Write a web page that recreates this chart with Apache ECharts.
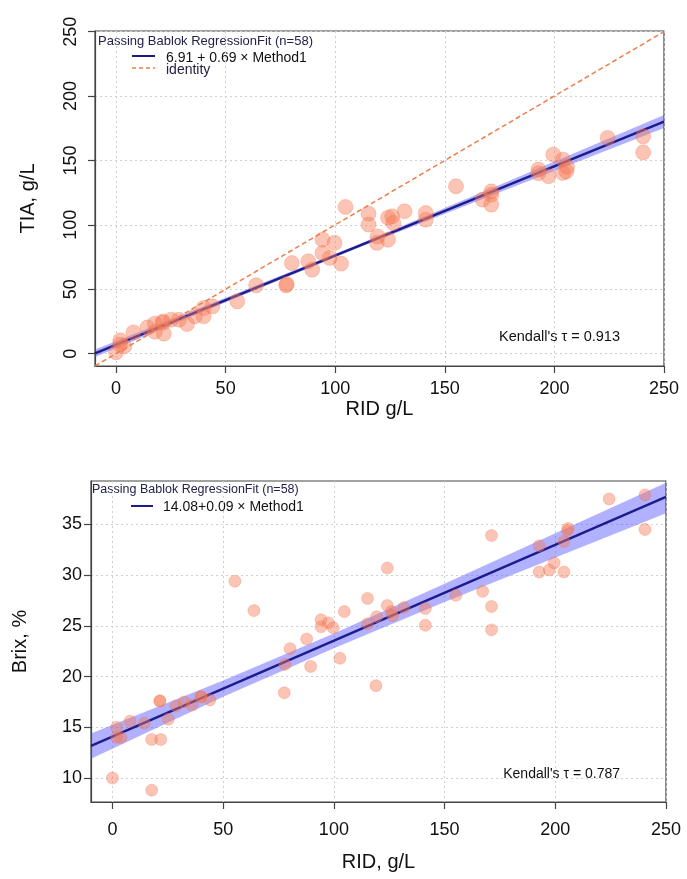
<!DOCTYPE html>
<html>
<head>
<meta charset="utf-8">
<script src="https://cdn.jsdelivr.net/npm/echarts@6/dist/echarts.min.js"></script>
<style>
html, body { margin: 0; padding: 0; background: #fff; }
#chart { width: 687px; height: 879px; }
</style>
</head>
<body>
<div id="chart"></div>
<script>
// RID g/L, shared by both panels
var rid = [0, 1.9, 1.9, 3.8, 7.9, 14.4, 17.7, 17.7, 21.4, 21.4, 21.8, 25.2, 28.7, 32.4, 36, 40, 40, 44,
  55.3, 63.9, 77.6, 77.9, 80.2, 87.7, 89.5, 94.2, 94.2, 97.5, 99.7, 102.7, 104.7, 115.2, 115.2, 119,
  119.3, 124.1, 124.1, 126, 126.5, 131.6, 141.3, 141.3, 155.1, 167.2, 171.2, 171.2, 171.2, 192.7,
  192.7, 197.3, 199.5, 203.9, 203.9, 205.8, 205.5, 224.3, 240.5, 240.5];
// TIA g/L
var tia = [1, 10.3, 7, 5.7, 16.5, 20.4, 23.3, 17, 25, 24, 15.5, 26.4, 26.4, 23, 29, 35.5, 29, 36.7,
  40.6, 53, 53, 54, 70.4, 71.7, 65.2, 88.5, 78.2, 74.3, 86, 69.9, 113.9, 108.7, 100.2, 86,
  91, 105.6, 88.5, 106.6, 101.5, 110.5, 109.2, 104, 129.9, 119.6, 126, 123.4, 115.7, 142.9,
  140, 137.7, 154.5, 150.6, 140.3, 145, 141.5, 167.5, 168.7, 156.3];
// Brix %
var brix = [10, 15, 14, 14, 15.6, 15.4, 13.8, 8.8, 17.6, 17.6, 13.8, 15.8, 17.1, 17.5, 17.2, 18, 18, 17.7,
  29.4, 26.5, 18.4, 21.2, 22.75, 23.7, 21, 25.6, 24.9, 25.3, 24.8, 21.8, 26.4, 27.7, 25.2, 19.1,
  25.9, 30.7, 27, 26.4, 26, 26.8, 26.7, 25.05, 28, 28.4, 33.9, 26.9, 24.6, 32.9,
  30.3, 30.5, 31.2, 30.3, 33.3, 34.6, 34.4, 37.5, 37.9, 34.5];

var xTicks = [0, 50, 100, 150, 200, 250];
var tiaTicks = [0, 50, 100, 150, 200, 250];
var brixTicks = [10, 15, 20, 25, 30, 35];

// intercept, slope
var tiaFit = [6.91, 0.693];
var brixFit = [14.08, 0.0945];

// confidence band
var tiaBandX = [-9.6, 50, 110, 180, 250];
var tiaBandLo = [-2.7, 39.8, 81.8, 128.6, 175.2];
var tiaBandHi = [3.3, 43.4, 84.4, 134.6, 185.2];
var brixBandX = [-9.7, 50, 100, 150, 250];
var brixBandLo = [11.9, 18.0, 22.8, 27.35, 36.1];
var brixBandHi = [14.4, 19.6, 24.25, 29.15, 39.1];

var FONT = 'Liberation Sans, Arial, sans-serif';
var lineColor = '#1c1c8a';
var bandColor = 'rgba(70,70,255,0.42)';
var ptColor = 'rgba(245,120,85,0.55)';
var ptBorder = 'rgba(240,110,75,0.35)';
var idColor = '#ec7e4c';

var chart = echarts.init(document.getElementById('chart'));

function axis(gi, min, max, ticks, opts) {
  return {
    type: 'value', gridIndex: gi, min: min, max: max,
    name: opts.name, nameLocation: 'middle', nameGap: opts.nameGap,
    nameTextStyle: { fontFamily: FONT, fontSize: 20, color: '#111' },
    axisLine: { show: true, onZero: false, lineStyle: { color: '#444', width: 1.2 } },
    axisTick: { show: true, length: 7, customValues: ticks, lineStyle: { color: '#444', width: 1.2 } },
    axisLabel: { customValues: ticks, rotate: opts.rotate || 0, margin: opts.margin,
      fontFamily: FONT, fontSize: 18, color: '#111' },
    splitLine: { show: true, lineStyle: { color: '#cfcfcf', type: [2, 3], width: 1 } }
  };
}

function band(xi, xs, lo, hi) {
  return {
    type: 'custom', xAxisIndex: xi, yAxisIndex: xi, silent: true, z: 2,
    data: [[xs[0], lo[0]]],
    renderItem: function (params, api) {
      var pts = [];
      for (var i = 0; i < xs.length; i++) pts.push(api.coord([xs[i], lo[i]]));
      for (var j = xs.length - 1; j >= 0; j--) pts.push(api.coord([xs[j], hi[j]]));
      return { type: 'polygon', shape: { points: pts }, style: { fill: bandColor } };
    }
  };
}

function fitLine(xi, fit, x0, x1) {
  return {
    type: 'line', xAxisIndex: xi, yAxisIndex: xi, symbol: 'none', silent: true, z: 3,
    lineStyle: { color: lineColor, width: 2.4 },
    data: [[x0, fit[0] + fit[1] * x0], [x1, fit[0] + fit[1] * x1]]
  };
}

function pairs(xs, ys) {
  var out = [];
  for (var i = 0; i < xs.length; i++) out.push([xs[i], ys[i]]);
  return out;
}

chart.setOption({
  animation: false,
  backgroundColor: '#fff',
  grid: [
    { left: 95, top: 31, width: 569, height: 335, show: true, borderColor: '#444', borderWidth: 1.2 },
    { left: 91, top: 481, width: 575, height: 321, show: true, borderColor: '#444', borderWidth: 1.2 }
  ],
  xAxis: [
    axis(0, -9.6, 250, xTicks, { name: 'RID g/L', nameGap: 33, margin: 14 }),
    axis(1, -9.7, 250, xTicks, { name: 'RID, g/L', nameGap: 50, margin: 19 })
  ],
  yAxis: [
    axis(0, -9.6, 250.5, tiaTicks, { name: 'TIA, g/L', nameGap: 57, rotate: 90, margin: 15 }),
    axis(1, 7.64, 39.27, brixTicks, { name: 'Brix, %', nameGap: 61, margin: 9 })
  ],
  series: [
    band(0, tiaBandX, tiaBandLo, tiaBandHi),
    fitLine(0, tiaFit, -9.6, 250),
    {
      type: 'line', xAxisIndex: 0, yAxisIndex: 0, symbol: 'none', silent: true, z: 3,
      lineStyle: { color: idColor, width: 1.5, type: [5, 3] },
      data: [[-9.6, -9.6], [250, 250]]
    },
    {
      type: 'scatter', xAxisIndex: 0, yAxisIndex: 0, symbolSize: 15, z: 4,
      itemStyle: { color: ptColor, borderColor: ptBorder, borderWidth: 1 },
      data: pairs(rid, tia)
    },
    band(1, brixBandX, brixBandLo, brixBandHi),
    fitLine(1, brixFit, -9.7, 250),
    {
      type: 'scatter', xAxisIndex: 1, yAxisIndex: 1, symbolSize: 12, z: 4,
      itemStyle: { color: ptColor, borderColor: ptBorder, borderWidth: 1 },
      data: pairs(rid, brix)
    }
  ],
  graphic: [
    { type: 'text', x: 98, y: 41, style: { text: 'Passing Bablok RegressionFit (n=58)', fontFamily: FONT, fontSize: 13, fill: '#22224a', verticalAlign: 'middle' } },
    { type: 'line', shape: { x1: 132, y1: 56, x2: 155, y2: 56 }, style: { stroke: lineColor, lineWidth: 2 } },
    { type: 'text', x: 166, y: 58, style: { text: '6.91 + 0.69 \u00d7 Method1', fontFamily: FONT, fontSize: 14, fill: '#111', verticalAlign: 'middle' } },
    { type: 'line', shape: { x1: 132, y1: 68, x2: 155, y2: 68 }, style: { stroke: idColor, lineWidth: 1.5, lineDash: [4, 3] } },
    { type: 'text', x: 166, y: 70, style: { text: 'identity', fontFamily: FONT, fontSize: 14, fill: '#222244', verticalAlign: 'middle' } },
    { type: 'text', x: 620, y: 337, style: { text: "Kendall's \u03c4 = 0.913", fontFamily: FONT, fontSize: 14.5, fill: '#111', align: 'right', verticalAlign: 'middle' } },

    { type: 'text', x: 92, y: 490, style: { text: 'Passing Bablok RegressionFit (n=58)', fontFamily: FONT, fontSize: 12.5, fill: '#22224a', verticalAlign: 'middle' } },
    { type: 'line', shape: { x1: 131, y1: 506, x2: 153, y2: 506 }, style: { stroke: lineColor, lineWidth: 2 } },
    { type: 'text', x: 163, y: 507, style: { text: '14.08+0.09 \u00d7 Method1', fontFamily: FONT, fontSize: 14, fill: '#111', verticalAlign: 'middle' } },
    { type: 'text', x: 620, y: 774, style: { text: "Kendall's \u03c4 = 0.787", fontFamily: FONT, fontSize: 14, fill: '#111', align: 'right', verticalAlign: 'middle' } }
  ]
});
</script>
</body>
</html>
